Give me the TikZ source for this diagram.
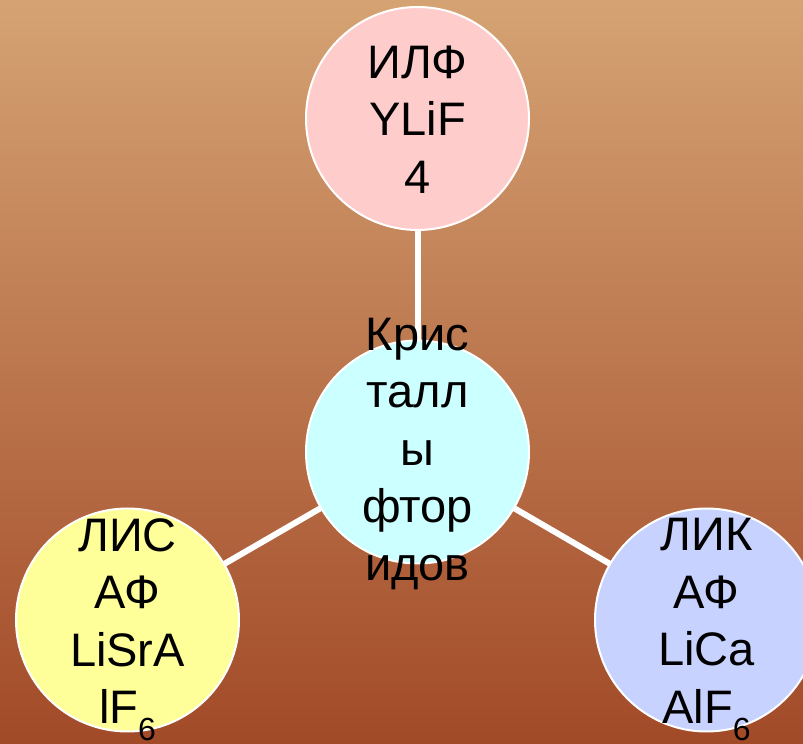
\documentclass[tikz,border=0pt]{standalone}
\usepackage{fontspec}
\setmainfont{Liberation Sans}
\usetikzlibrary{backgrounds}
\definecolor{bgtop}{HTML}{D5A373}
\definecolor{bgbot}{HTML}{A24A28}
\definecolor{fillpink}{HTML}{FFCCCC}
\definecolor{fillcyan}{HTML}{CCFFFF}
\definecolor{fillyellow}{HTML}{FFFF99}
\definecolor{fillblue}{HTML}{C8D2FF}
\tikzset{
  bubble/.style={circle, draw=white, line width=2pt, minimum size=223pt, inner sep=0pt},
  label text/.style={align=center, inner sep=0pt, text=black, font=\fontsize{47}{57.5}\selectfont},
  link/.style={draw=white, line width=6pt}
}
\newcommand{\subsix}{\smash{\raisebox{-17pt}{\fontsize{32}{32}\selectfont 6}}}
\begin{document}
\begin{tikzpicture}[x=1pt,y=1pt]
\useasboundingbox (0,0) rectangle (803,744);
\node[bubble, fill=fillpink] (top) at (417.5,625.5) {};
\node[bubble, fill=fillcyan] (mid) at (417.5,292) {};
\node[bubble, fill=fillyellow] (left) at (127.5,124) {};
\node[bubble, fill=fillblue] (right) at (706.5,124) {};
\begin{pgfonlayer}{background}
\shade[top color=bgtop, bottom color=bgbot] (0,0) rectangle (803,744);
\draw[link] (mid.center) -- (top.center);
\draw[link] (mid.center) -- (left.center);
\draw[link] (mid.center) -- (right.center);
\end{pgfonlayer}
\node[label text] (ttop) at ([yshift=-1pt]top.center) {ИЛФ\\YLiF\\4};
\node[label text] (tmid) at ([yshift=-2pt]mid.center) {Крис\\талл\\ы\\фтор\\идов};
\node[label text] (tleft) at ([yshift=-1pt]left.center) {ЛИС\\АФ\\LiSrA\\lF\subsix};
\node[label text] (tright) at ([yshift=-1pt]right.center) {ЛИК\\АФ\\LiCa\\AlF\subsix};
\end{tikzpicture}
\end{document}
